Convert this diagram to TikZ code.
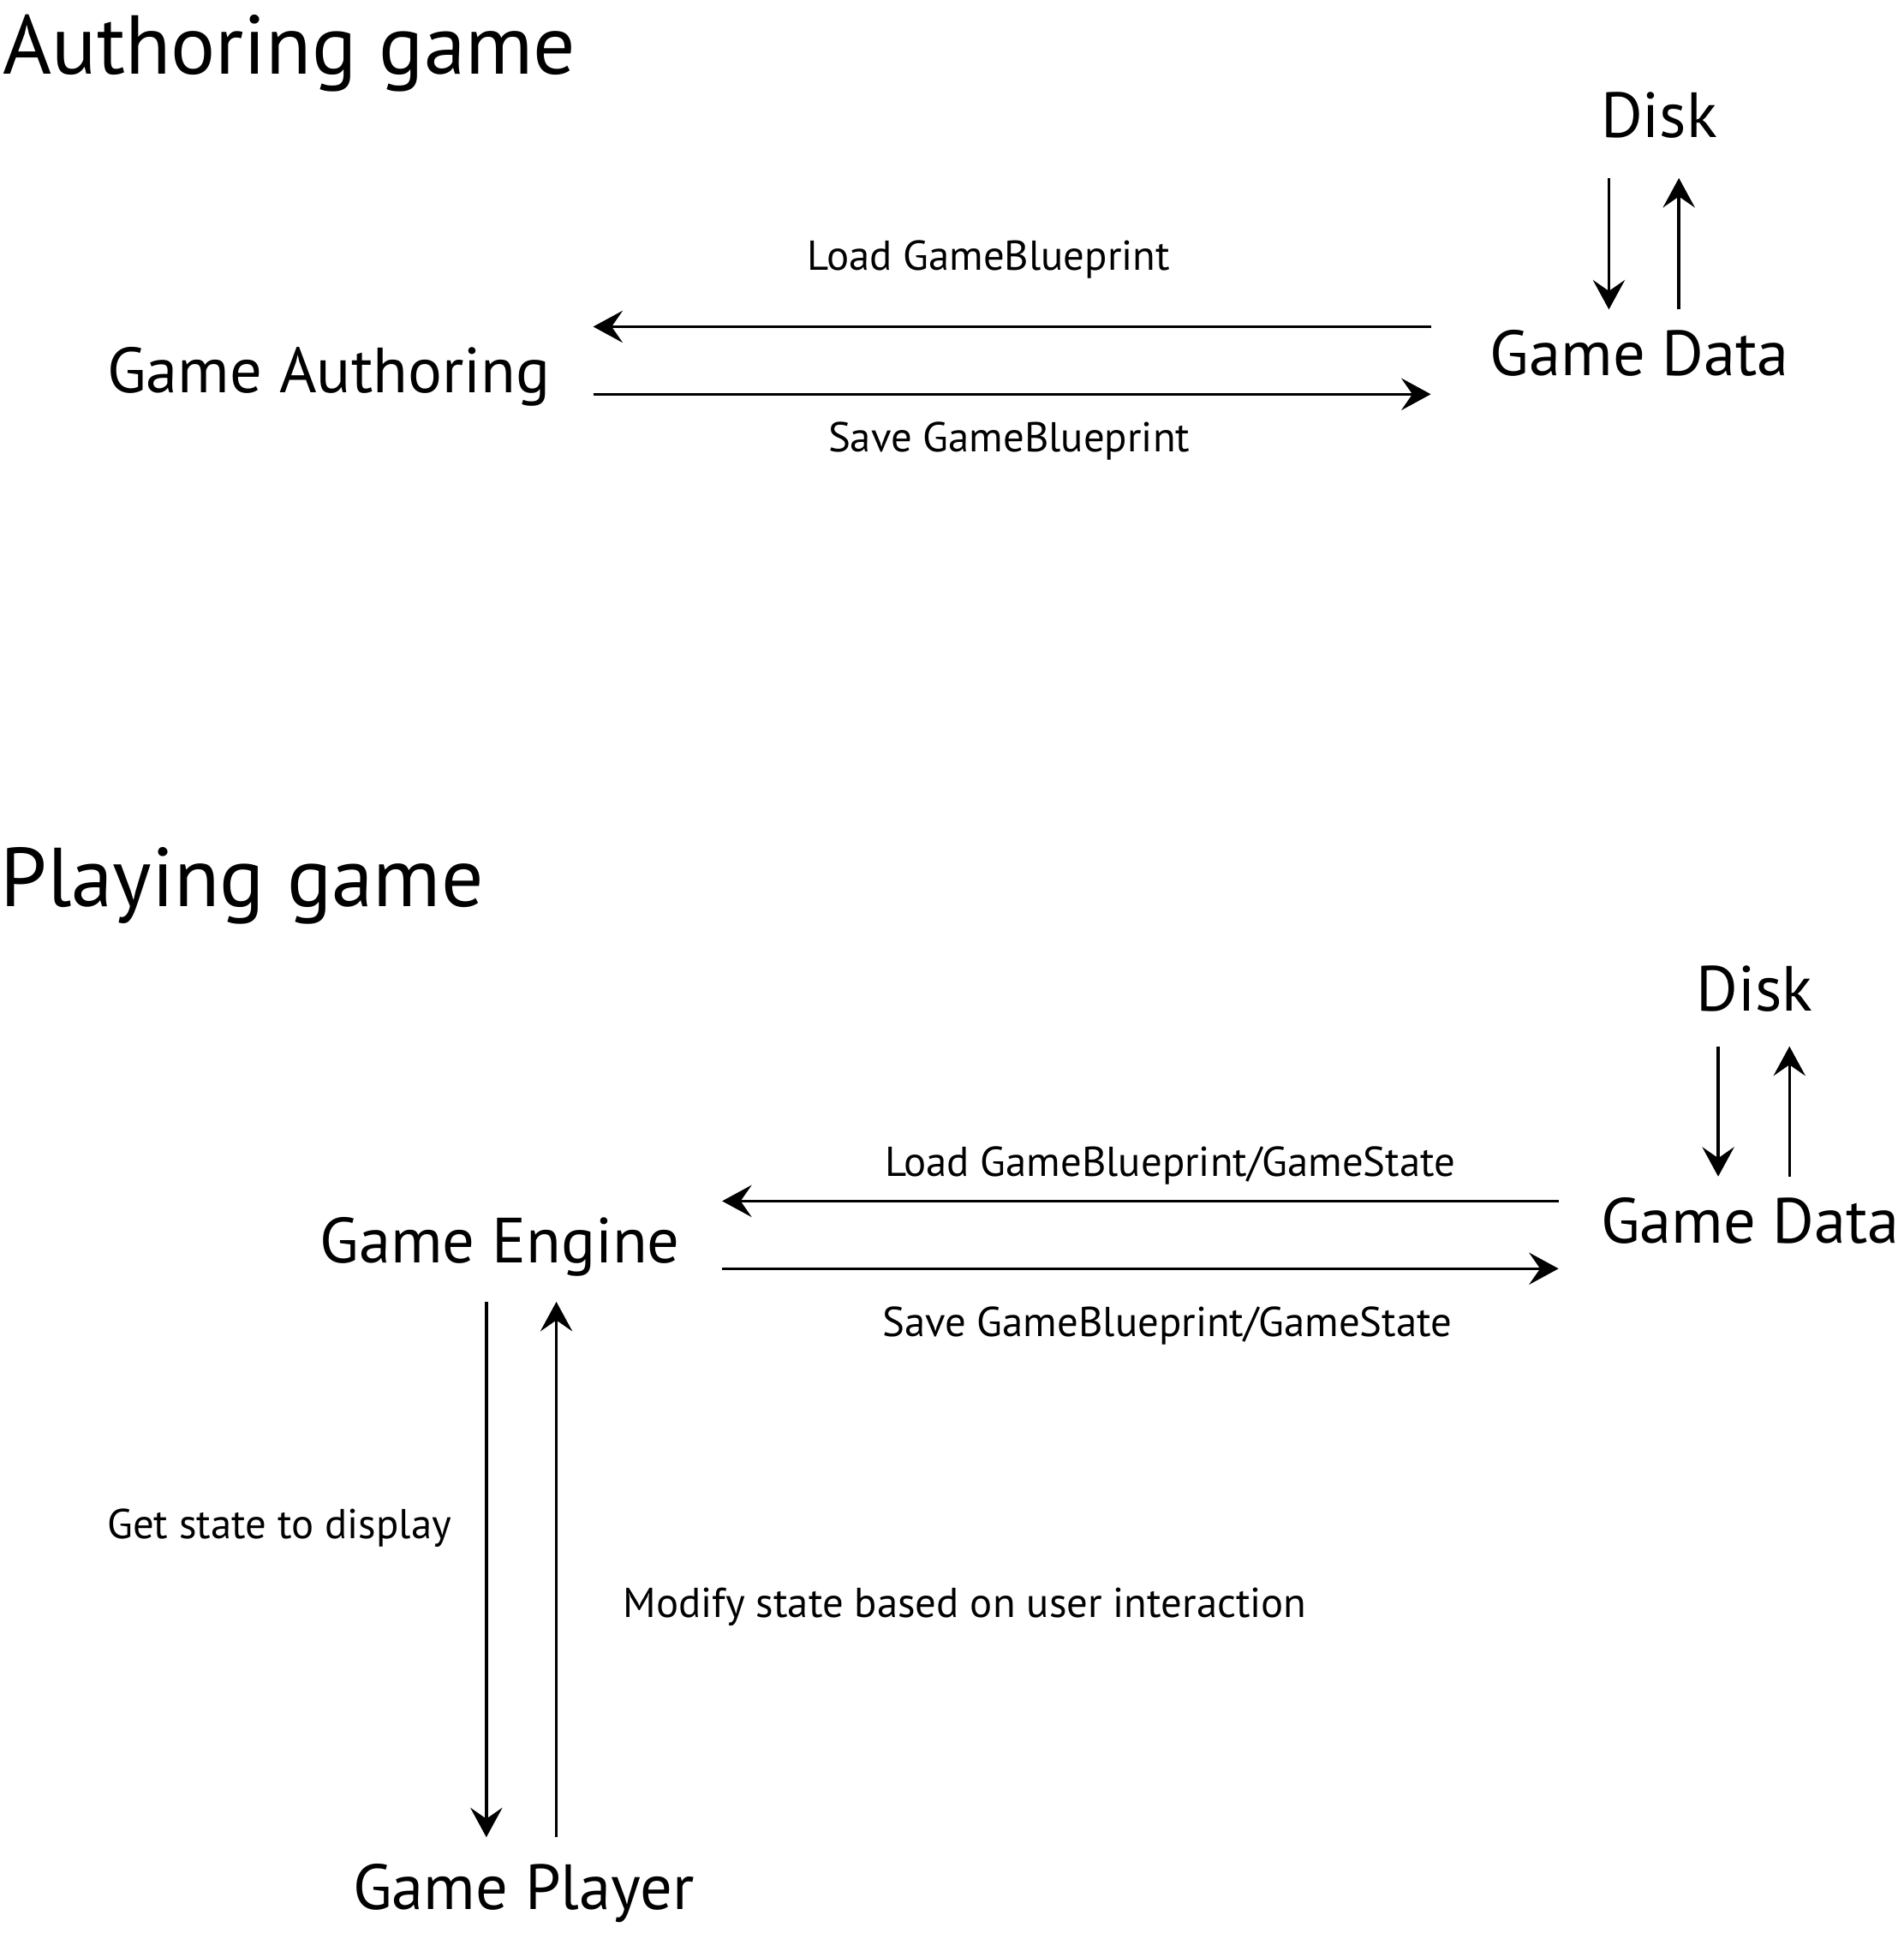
\documentclass[tikz,border=0pt]{standalone}
\usepackage{fontspec}
\setmainfont{PT Sans}
\usetikzlibrary{arrows.meta, positioning}
\tikzstyle{heading} = [anchor=base west, inner sep=0pt,
    font=\fontsize{34}{40}\selectfont]
\tikzstyle{part} = [anchor=base west, inner sep=0pt,
    font=\fontsize{26}{31}\selectfont]
\tikzstyle{msg} = [anchor=base west, inner sep=0pt,
    font=\fontsize{17}{20}\selectfont]
\tikzstyle{flow} = [draw, line width=1.2pt,
    -{Stealth[length=12pt, width=13pt, inset=4.5pt]}]

\begin{document}
\begin{tikzpicture}[x=0.5pt, y=-0.5pt]
        \useasboundingbox (0,0) rectangle (1550,1574);
        % authoring
        \node[heading, name=authTitle] at (2,60) {Authoring game};
        \node[part, name=diskA] at (1303,112) {Disk};
        \node[part, name=dataA] at (1213,306) {Game Data};
        \node[part, name=authoring] at (87,320) {Game Authoring};
        \node[msg, name=loadA] at (657,220) {Load GameBlueprint};
        \node[msg, name=saveA] at (674,368) {Save GameBlueprint};

        \coordinate (diskAdown) at (1310,145);
        \coordinate (dataAdown) at (1310,252);
        \coordinate (diskAup) at (1367,145);
        \coordinate (dataAup) at (1367,252);
        \coordinate (dataAload) at (1165,266);
        \coordinate (authload) at (483,266);
        \coordinate (authsave) at (483,321);
        \coordinate (dataAsave) at (1165,321);

        \draw[flow] (diskAdown) -- (dataAdown);
        \draw[flow] (dataAup) -- (diskAup);
        \draw[flow] (dataAload) -- (authload);
        \draw[flow] (authsave) -- (dataAsave);

        % playing
        \node[heading, name=playTitle] at (0,738) {Playing game};
        \node[part, name=diskP] at (1381,823) {Disk};
        \node[part, name=dataP] at (1303,1012) {Game Data};
        \node[part, name=engine] at (260,1028) {Game Engine};
        \node[part, name=player] at (287,1555) {Game Player};
        \node[msg, name=loadP] at (720,958) {Load GameBlueprint/GameState};
        \node[msg, name=saveP] at (718,1088) {Save GameBlueprint/GameState};
        \node[msg, name=getstate] at (87,1253) {Get state to display};
        \node[msg, name=modify] at (507,1317) {Modify state based on user interaction};

        \coordinate (diskPdown) at (1399,852);
        \coordinate (dataPdown) at (1399,958);
        \coordinate (diskPup) at (1457,852);
        \coordinate (dataPup) at (1457,958);
        \coordinate (dataPload) at (1269,978);
        \coordinate (engload) at (588,978);
        \coordinate (engsave) at (588,1033);
        \coordinate (dataPsave) at (1269,1033);
        \coordinate (engdown) at (396,1060);
        \coordinate (playdown) at (396,1496);
        \coordinate (engup) at (453,1060);
        \coordinate (playup) at (453,1496);

        \draw[flow] (diskPdown) -- (dataPdown);
        \draw[flow] (dataPup) -- (diskPup);
        \draw[flow] (dataPload) -- (engload);
        \draw[flow] (engsave) -- (dataPsave);
        \draw[flow] (engdown) -- (playdown);
        \draw[flow] (playup) -- (engup);
\end{tikzpicture}
\end{document}
